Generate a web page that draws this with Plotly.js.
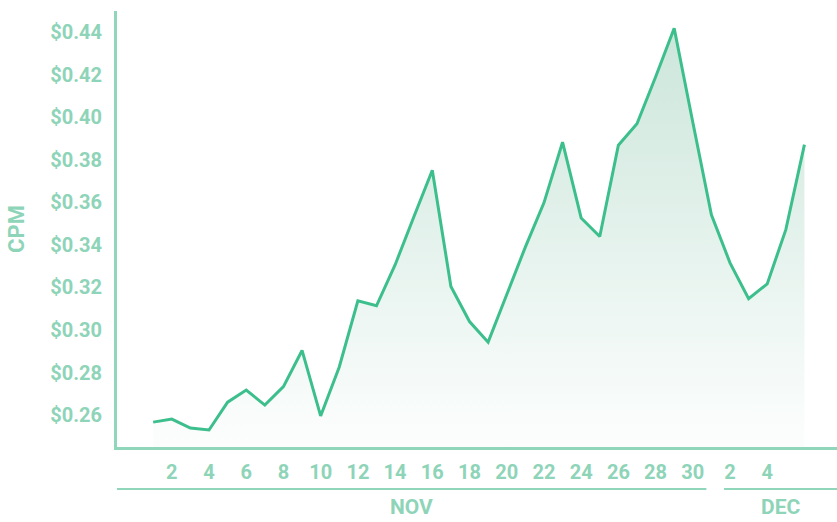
<!DOCTYPE html>
<html>
<head>
<meta charset="utf-8">
<script src="https://cdn.plot.ly/plotly-3.0.1.min.js"></script>
<style>
  html, body { margin: 0; padding: 0; background: #ffffff; }
  #chart { width: 837px; height: 522px; }
</style>
</head>
<body>
<div id="chart"></div>
<script>
// Day index: 1 = Nov 1 ... 36 = Dec 6
const days = [1,2,3,4,5,6,7,8,9,10,11,12,13,14,15,16,17,18,19,20,21,22,23,24,25,26,27,28,29,30,31,32,33,34,35,36];
const cpm = [0.2567, 0.2581, 0.2539, 0.2530, 0.2661, 0.2718, 0.2647, 0.2734, 0.2904, 0.2596,
             0.2826, 0.3137, 0.3114, 0.3306, 0.3530, 0.3751, 0.3205, 0.3040, 0.2943, 0.3167,
             0.3390, 0.3598, 0.3883, 0.3527, 0.3440, 0.3869, 0.3970, 0.4190, 0.4419, 0.3977,
             0.3542, 0.3316, 0.3147, 0.3217, 0.3472, 0.3872];
const xTickVals = [2,4,6,8,10,12,14,16,18,20,22,24,26,28,30,32,34];
const xTickText = ['2','4','6','8','10','12','14','16','18','20','22','24','26','28','30','2','4'];
const yTickVals = [0.26,0.28,0.30,0.32,0.34,0.36,0.38,0.40,0.42,0.44];
const months = ['NOV', 'DEC'];
const monthStart = [-0.945, 31.68];
const monthEnd = [30.73, 37.75];

const textColor = '#8ed4b8';
const lineColor = '#3cbf8c';
const axisColor = '#8fd6bb';
const font = 'Roboto, "Noto Sans", sans-serif';

const trace = {
  x: days,
  y: cpm,
  type: 'scatter',
  mode: 'lines',
  line: { color: lineColor, width: 3 },
  fill: 'tozeroy',
  fillgradient: {
    type: 'vertical',
    start: 0.25,
    stop: 0.445,
    colorscale: [[0, 'rgba(70,165,125,0.02)'], [1, 'rgba(70,165,125,0.28)']]
  },
  hoverinfo: 'skip'
};

const shapes = months.map((m, i) => ({
  type: 'line', xref: 'x', yref: 'paper',
  x0: monthStart[i], x1: monthEnd[i], y0: -0.0963, y1: -0.0963,
  line: { color: axisColor, width: 2 }
}));

const annotations = months.map((m, i) => ({
  text: m, xref: 'x', yref: 'paper',
  x: (monthStart[i] + monthEnd[i]) / 2, y: -0.1376,
  showarrow: false, xanchor: 'center', yanchor: 'middle', borderpad: 0,
  font: { family: font, size: 21, color: textColor, weight: 700 }
}));

const layout = {
  width: 837, height: 522,
  margin: { l: 117, r: 0, t: 11, b: 75 },
  paper_bgcolor: '#ffffff',
  plot_bgcolor: '#ffffff',
  showlegend: false,
  xaxis: {
    range: [-0.945, 37.75],
    tickvals: xTickVals,
    ticktext: xTickText,
    showgrid: false, zeroline: false,
    showline: true, linecolor: axisColor, linewidth: 3,
    ticks: '', ticklabelstandoff: 5,
    tickfont: { family: font, size: 20, color: textColor, weight: 700 }
  },
  yaxis: {
    range: [0.245, 0.45],
    tickvals: yTickVals,
    tickformat: '$.2f',
    showgrid: false, zeroline: false,
    showline: true, linecolor: axisColor, linewidth: 3,
    ticks: '', ticklabelstandoff: 8,
    tickfont: { family: font, size: 20, color: textColor, weight: 700 },
    title: { text: 'CPM', standoff: 20, font: { family: font, size: 22, color: textColor, weight: 700 } }
  },
  shapes: shapes,
  annotations: annotations
};

Plotly.newPlot('chart', [trace], layout, { displayModeBar: false, staticPlot: true });
</script>
</body>
</html>
